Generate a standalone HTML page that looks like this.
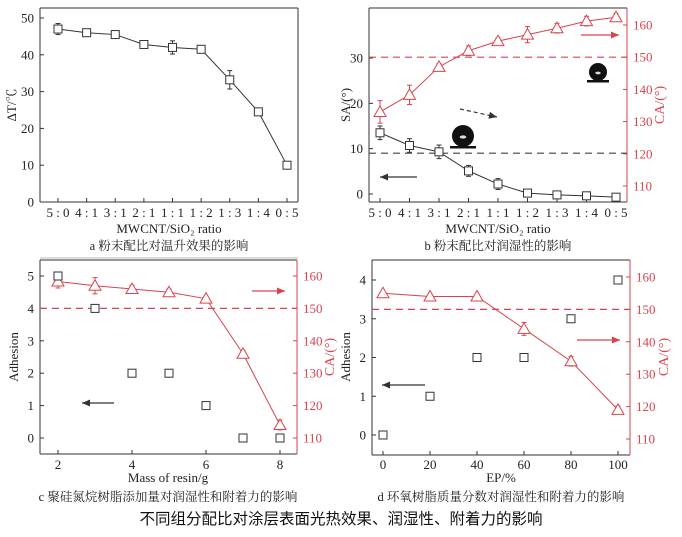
<!DOCTYPE html>
<html><head><meta charset="utf-8"><style>
body{margin:0;background:#fff;width:682px;height:537px;overflow:hidden}
svg{display:block}
text{font-family:"Liberation Serif","Noto Serif CJK SC",serif;font-size:13px;fill:#222}
.cap{font-size:12.5px}
</style></head><body>
<svg id="fig" width="682" height="537">
<text x="341" y="524" text-anchor="middle" style="font-family:'Liberation Sans','Noto Sans CJK SC',sans-serif;font-size:15.5px;fill:#111">不同组分配比对涂层表面光热效果、润湿性、附着力的影响</text>
</svg>
<script>
const ratioCats=["5 : 0","4 : 1","3 : 1","2 : 1","1 : 1","1 : 2","1 : 3","1 : 4","0 : 5"];
const dT=[47,46,45.5,42.8,42,41.5,33.2,24.5,10];
const dTErr=[1.5,1,0.5,0.6,1.8,0.8,2.5,0.5,0.5];
const saVals=[13.5,10.7,9.3,5.1,2.2,0.2,-0.2,-0.4,-0.7];
const saErr=[1.5,1.5,1.5,1.2,1.2,0.3,0.3,0.5,0.3];
const caB=[133,138.3,147,152,155,157,159,161.2,162.4];
const caBErr=[3.5,3,1,1.5,1,2.5,1.5,1.5,1.2];
const resinX=[2,3,4,5,6,7,8];
const adhC=[5,4,2,2,1,0,0];
const caC=[158.3,157,156,155,153,136,114];
const caCErr=[2,2.5,1.2,1,0.8,1,1.5];
const epX=[0,20,40,60,80,100];
const adhD=[0,1,2,2,3,4];
const caD=[155,154,154,144,134,119];
const caDErr=[0.5,0.5,0.5,2,1.5,1.2];
const tA=[0,10,20,30,40,50];
const tSA=[0,10,20,30];
const tCAb=[110,120,130,140,150,160];
const tAdhC=[0,1,2,3,4,5];
const tAdhD=[0,1,2,3,4];
const tCA=[110,120,130,140,150,160];
const tResin=[2,4,6,8];
const tEP=[0,20,40,60,80,100];

const svg=document.getElementById('fig');
const NS='http://www.w3.org/2000/svg';
function el(tag,at,parent,txt){const e=document.createElementNS(NS,tag);for(const k in at)e.setAttribute(k,at[k]);if(txt!==undefined)e.textContent=txt;(parent||svg).appendChild(e);return e;}
function lin(d0,d1,p0,p1){return v=>p0+(v-d0)*(p1-p0)/(d1-d0);}
const BLK='#333',RED='#d9434f';

function box(x0,y0,x1,y1,name,rightRed){
  const g=el('g',{});
  el('line',{x1:x0,y1:y0,x2:x1,y2:y0,stroke:BLK,'stroke-width':1},g);
  el('line',{x1:x0,y1:y0,x2:x0,y2:y1,stroke:BLK,'stroke-width':1},g);
  el('line',{x1:x0,y1:y1,x2:x1,y2:y1,stroke:BLK,'stroke-width':1},g);
  el('line',{x1:x1,y1:y0,x2:x1,y2:y1,stroke:rightRed?RED:BLK,'stroke-width':1},g);
  return g;
}
function yTicks(ticks,sy,x,side,color,name){
  const g=el('g',{});
  ticks.forEach(t=>{const y=sy(t);
    if(side==='l'){el('line',{x1:x,y1:y,x2:x+4,y2:y,stroke:color},g);el('text',{x:x-6,y:y+4.5,'text-anchor':'end'},g,t);}
    else{el('line',{x1:x,y1:y,x2:x-4,y2:y,stroke:color},g);const tx=el('text',{x:x+6,y:y+4.5,'text-anchor':'start'},g,t);tx.setAttribute('style','fill:'+color);}
  });
}
function xTicks(labels,vals,sx,y,ly,name){
  const g=el('g',{});
  vals.forEach((v,i)=>{const x=sx(v);el('line',{x1:x,y1:y,x2:x,y2:y-4,stroke:BLK},g);
    el('text',{x:x,y:ly,'text-anchor':'middle'},g,labels[i]);});
}
function label(x,y,txt,name,rot,color){
  const t=el('text',{x:x,y:y,'text-anchor':'middle'},svg,txt);
  if(rot)t.setAttribute('transform',`rotate(-90 ${x} ${y})`);
  if(color)t.setAttribute('style','fill:'+color+';font-size:14px');
  return t;
}
function square(g,x,y){el('rect',{x:x-4,y:y-4,width:8,height:8,fill:'#fff',stroke:BLK,'stroke-width':1},g);}
function tri(g,x,y){el('polygon',{points:`${x},${y-6} ${x-6},${y+4.5} ${x+6},${y+4.5}`,fill:'#fff',stroke:RED,'stroke-width':1},g);}
function err(g,x,y1,y2,c){el('line',{x1:x,y1:y1,x2:x,y2:y2,stroke:c},g);el('line',{x1:x-2.5,y1:y1,x2:x+2.5,y2:y1,stroke:c},g);el('line',{x1:x-2.5,y1:y2,x2:x+2.5,y2:y2,stroke:c},g);}
function series(xs,ys,errs,sx,sy,kind,color,name,line){
  const g=el('g',{});
  if(line){el('polyline',{points:xs.map((x,i)=>sx(x)+','+sy(ys[i])).join(' '),fill:'none',stroke:color,'stroke-width':1},g);}
  xs.forEach((x,i)=>{const X=sx(x),Y=sy(ys[i]);
    if(errs)err(g,X,sy(ys[i]+errs[i]),sy(ys[i]-errs[i]),color);
    if(kind==='sq')square(g,X,Y);else tri(g,X,Y);});
}
function hdash(x0,x1,y,color,name){const l=el('line',{x1:x0,y1:y,x2:x1,y2:y,stroke:color,'stroke-width':1.2,'stroke-dasharray':'7,5'});}
function arrow(x0,y0,x1,y1,color,name,dash){
  const g=el('g',{});
  el('line',{x1:x0,y1:y0,x2:x1,y2:y1,stroke:color,'stroke-width':1.2,'stroke-dasharray':dash?'4,3':'none'},g);
  const a=Math.atan2(y1-y0,x1-x0),L=8,W=3.5;
  const p=[[x1,y1],[x1-L*Math.cos(a)+W*Math.sin(a),y1-L*Math.sin(a)-W*Math.cos(a)],[x1-L*Math.cos(a)-W*Math.sin(a),y1-L*Math.sin(a)+W*Math.cos(a)]];
  el('polygon',{points:p.map(q=>q.join(',')).join(' '),fill:color},g);
}
function droplet(cx,cy,r,name){
  const g=el('g',{});
  el('circle',{cx:cx,cy:cy,r:r,fill:'#111'},g);
  el('ellipse',{cx:cx,cy:cy+1,rx:r*0.3,ry:r*0.15,fill:'#ddd'},g);
  el('rect',{x:cx-r-2,y:cy+r-1,width:2*r+4,height:2.5,fill:'#111'},g);
}

(function(){
  const idx=ratioCats.map((c,i)=>i);
  const sx=lin(0,8,58,287),sy=lin(0,50,202,18);
  box(40,8,298,202,'panel-a-plot-frame');
  yTicks(tA,sy,40,'l',BLK,'panel-a-y-axis');
  xTicks(ratioCats,idx,sx,202,217,'panel-a-x-axis');
  series(idx,dT,dTErr,sx,sy,'sq',BLK,'panel-a-delta-t-series',true);
  label(16,105,'ΔT/℃','panel-a-y-axis-title',true);
  label(169,233,'MWCNT/SiO₂ ratio','panel-a-x-axis-title');
  label(169,250,'a  粉末配比对温升效果的影响','panel-a-caption').setAttribute('class','cap');
  const l=el('line',{x1:40,y1:258,x2:298,y2:258,stroke:'#bbb'});
})();
(function(){
  const idx=ratioCats.map((c,i)=>i);
  const sx=lin(0,8,380,616),sy=lin(0,30,194,58),sy2=lin(110,160,186,25);
  box(369,8,627,202,'panel-b-plot-frame',true);
  yTicks(tSA,sy,369,'l',BLK,'panel-b-left-axis');
  yTicks(tCAb,sy2,627,'r',RED,'panel-b-right-axis');
  xTicks(ratioCats,idx,sx,202,217,'panel-b-x-axis');
  hdash(369,627,sy2(150),RED,'panel-b-150-reference');
  hdash(369,627,sy(9.0),'#444','panel-b-sa-reference');
  series(idx,caB,caBErr,sx,sy2,'tri',RED,'panel-b-ca-series',true);
  series(idx,saVals,saErr,sx,sy,'sq',BLK,'panel-b-sa-series',true);
  arrow(417,177,380,177,BLK,'panel-b-left-arrow');
  arrow(581,35,619,35,RED,'panel-b-right-arrow');
  arrow(460,109,497,117,'#333','panel-b-dashed-arrow',true);
  droplet(598,72,9,'panel-b-droplet-high');
  droplet(463,136,11,'panel-b-droplet-low');
  label(350,105,'SA/(°)','panel-b-left-title',true);
  label(664,105,'CA/(°)','panel-b-right-title',true,RED);
  label(498,233,'MWCNT/SiO₂ ratio','panel-b-x-axis-title');
  label(498,250,'b  粉末配比对润湿性的影响','panel-b-caption').setAttribute('class','cap');
})();
(function(){
  const sx=lin(2,8,58,280),sy=lin(0,5,438,276),sy2=lin(110,160,438,276);
  box(40,260,297,454,'panel-c-plot-frame',true);
  yTicks(tAdhC,sy,40,'l',BLK,'panel-c-left-axis');
  yTicks(tCA,sy2,297,'r',RED,'panel-c-right-axis');
  xTicks(tResin,tResin,sx,454,469,'panel-c-x-axis');
  hdash(40,297,sy2(150),RED,'panel-c-150-reference');
  series(resinX,caC,caCErr,sx,sy2,'tri',RED,'panel-c-ca-series',true);
  series(resinX,adhC,null,sx,sy,'sq',BLK,'panel-c-adhesion-series',false);
  arrow(114,403,82,403,BLK,'panel-c-left-arrow');
  arrow(252,291,285,291,RED,'panel-c-right-arrow');
  label(18,357,'Adhesion','panel-c-left-title',true);
  label(334,357,'CA/(°)','panel-c-right-title',true,RED);
  label(168,482,'Mass of resin/g','panel-c-x-axis-title');
  label(168,501,'c  聚硅氮烷树脂添加量对润湿性和附着力的影响','panel-c-caption').setAttribute('class','cap');
})();
(function(){
  const sx=lin(0,100,383,618),sy=lin(0,4,435,280),sy2=lin(110,160,439,277);
  box(372,260,630,455,'panel-d-plot-frame',true);
  yTicks(tAdhD,sy,372,'l',BLK,'panel-d-left-axis');
  yTicks(tCA,sy2,630,'r',RED,'panel-d-right-axis');
  xTicks(tEP,tEP,sx,455,469,'panel-d-x-axis');
  hdash(372,630,sy2(150),RED,'panel-d-150-reference');
  series(epX,caD,caDErr,sx,sy2,'tri',RED,'panel-d-ca-series',true);
  series(epX,adhD,null,sx,sy,'sq',BLK,'panel-d-adhesion-series',false);
  arrow(425,385,382,385,BLK,'panel-d-left-arrow');
  arrow(577,340,620,340,RED,'panel-d-right-arrow');
  label(350,357,'Adhesion','panel-d-left-title',true);
  label(668,357,'CA/(°)','panel-d-right-title',true,RED);
  label(501,482,'EP/%','panel-d-x-axis-title');
  label(501,501,'d  环氧树脂质量分数对润湿性和附着力的影响','panel-d-caption').setAttribute('class','cap');
})();
</script>
</body></html>
